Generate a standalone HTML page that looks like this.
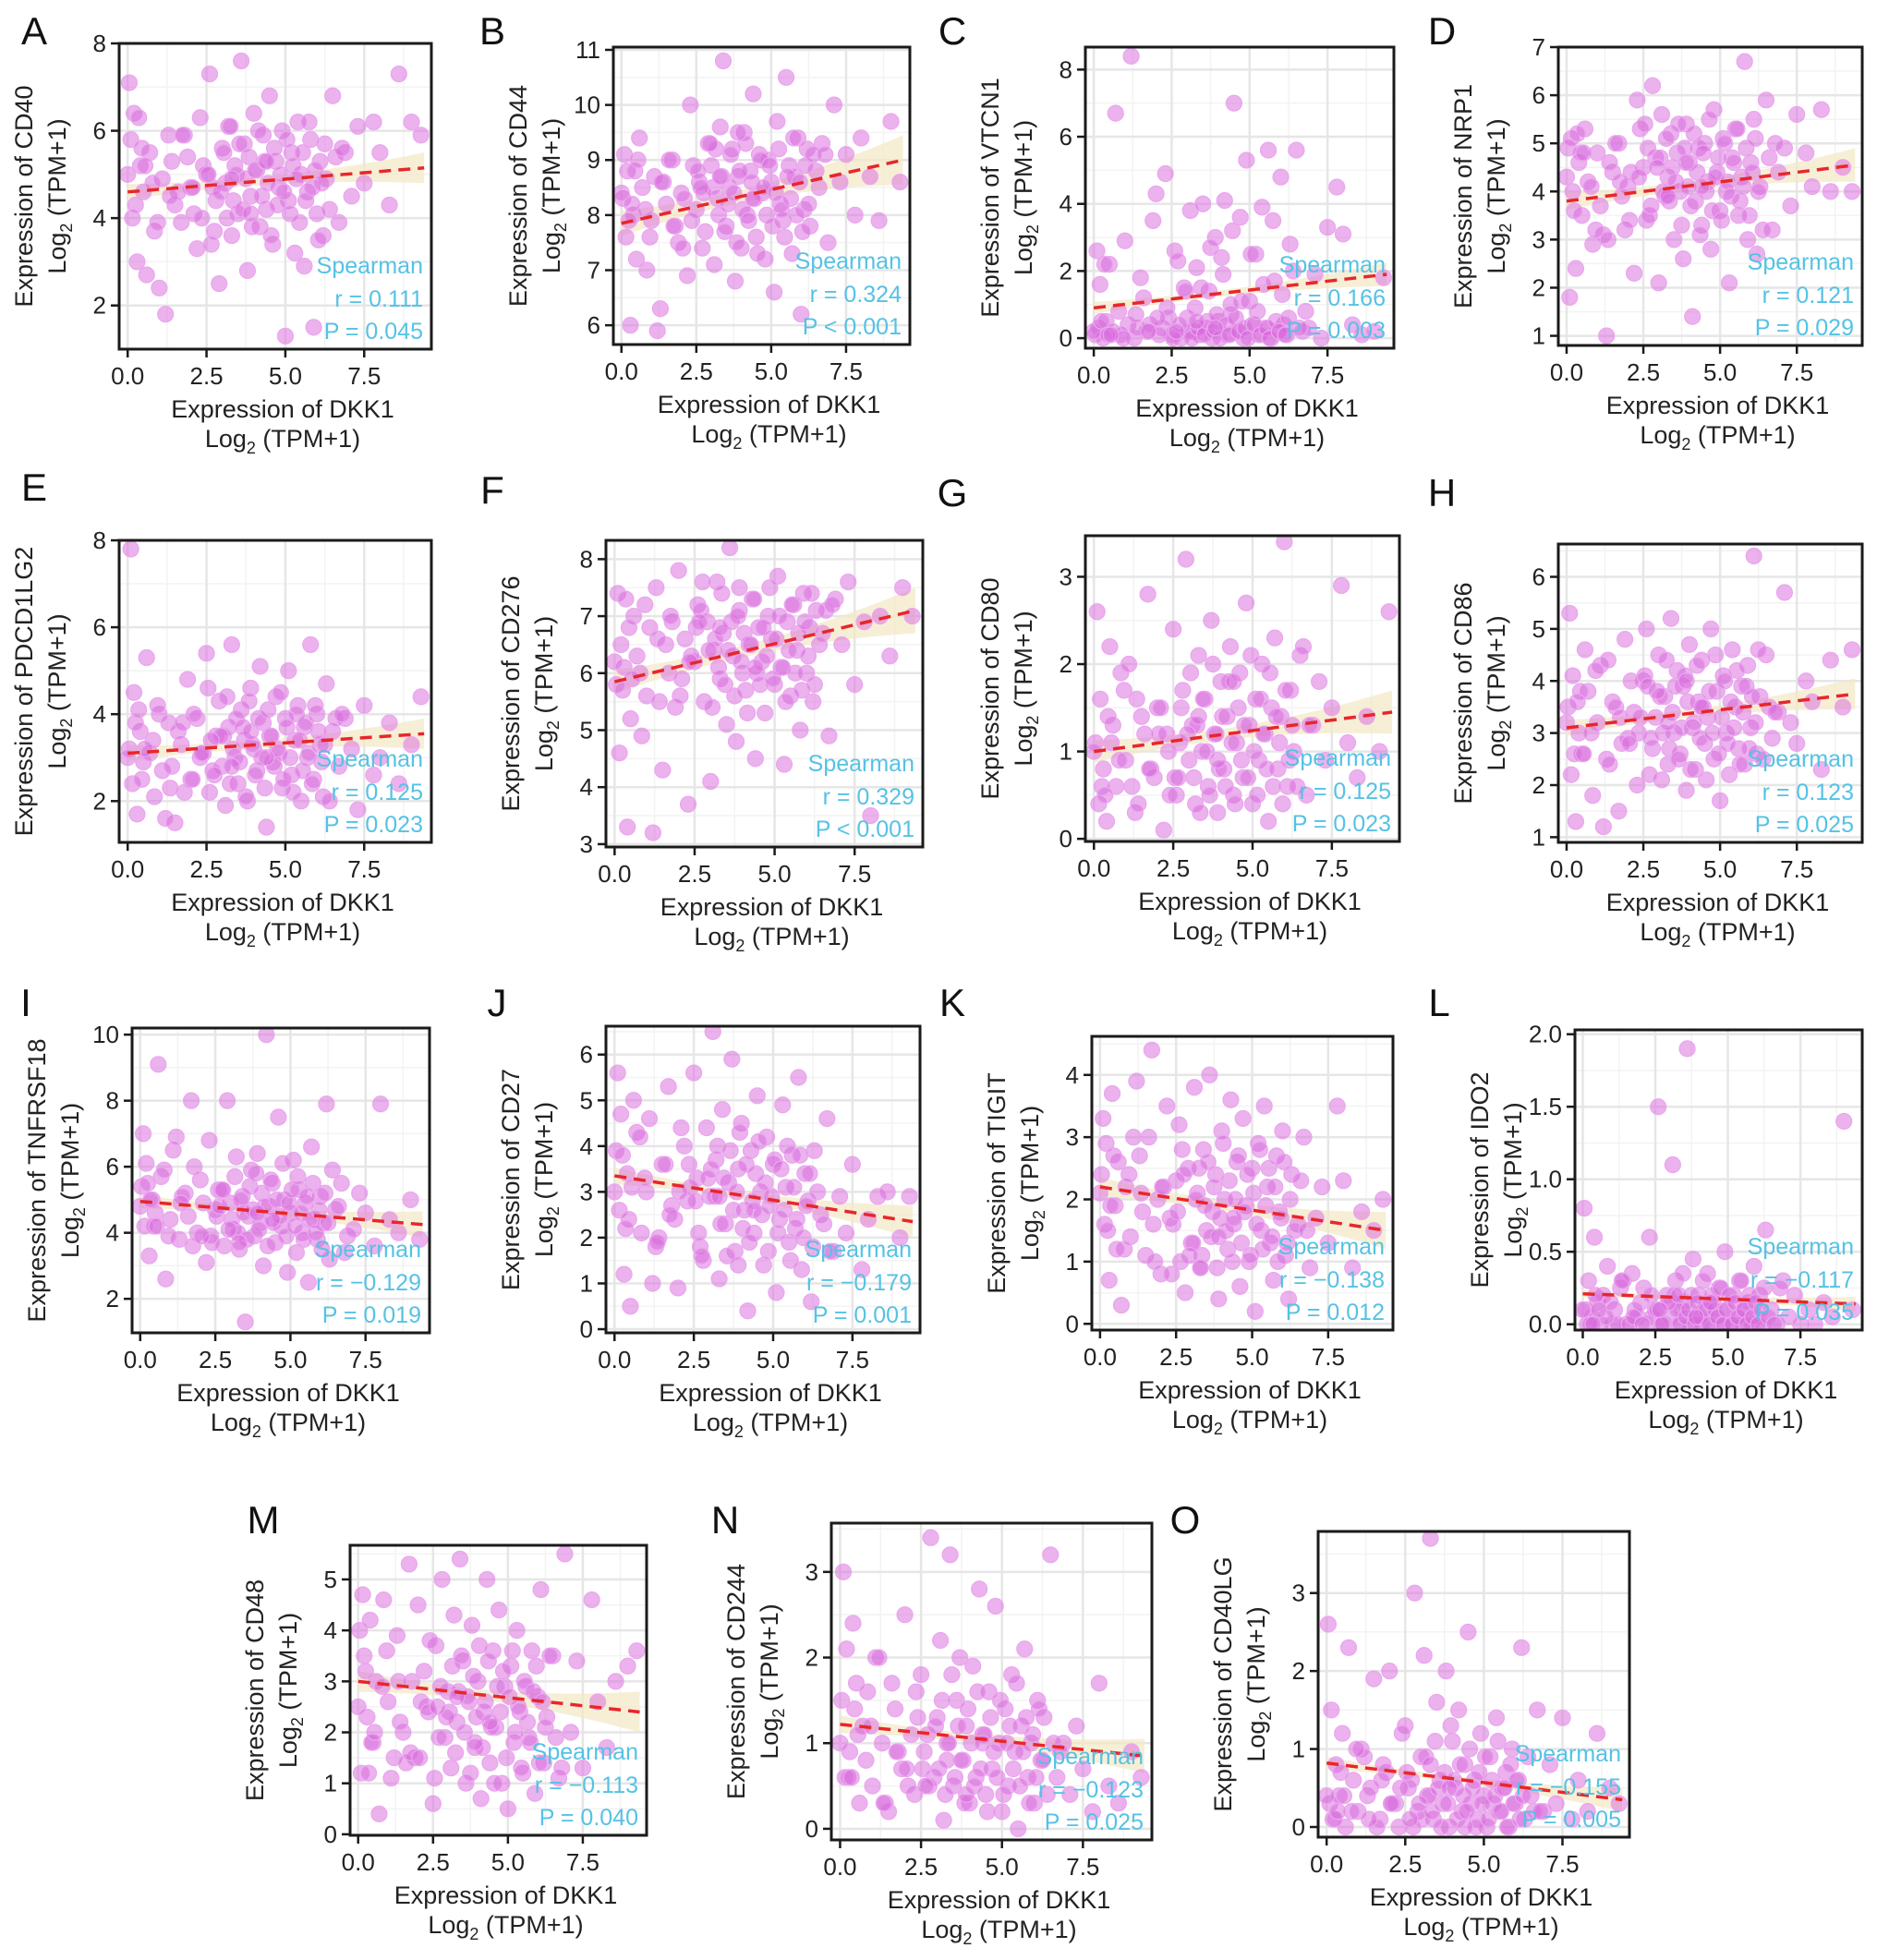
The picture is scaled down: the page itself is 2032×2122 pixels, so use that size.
<!DOCTYPE html>
<html><head><meta charset="utf-8">
<style>
html,body{margin:0;padding:0;background:#fff;}
svg{display:block;font-family:"Liberation Sans",Arial,sans-serif;}
</style></head>
<body>
<svg id="fig" width="2032" height="2122" viewBox="0 0 2032 2122" xmlns="http://www.w3.org/2000/svg"></svg>
<script>
// Shared DKK1 expression values (x)
const dkk1 = [0.05,0.1,0.15,0.2,0.3,0.4,0.5,0.6,0.7,0.85,1.0,1.1,1.3,1.5,1.7,1.9,2.0,2.2,2.3,2.5,2.6,2.8,2.9,3.0,3.1,3.2,3.3,3.4,3.5,3.6,3.7,3.8,3.9,4.0,4.1,4.2,4.3,4.4,4.5,4.6,4.7,4.8,4.9,5.0,5.1,5.2,5.3,5.4,5.5,5.6,5.7,5.8,5.9,6.0,6.1,6.2,6.3,6.5,6.7,6.9,7.1,7.3,7.5,7.8,8.0,8.3,8.6,9.0,9.3,1.2,
 0.0,0.25,0.45,0.8,0.95,1.4,1.6,1.8,2.1,2.4,2.7,3.05,3.15,3.25,3.35,3.45,3.55,3.65,3.75,3.85,3.95,4.05,4.15,4.25,4.35,4.45,4.55,4.65,4.75,4.85,4.95,5.05,5.15,5.25,5.35,5.45,5.55,5.65,5.75,5.85,5.95,6.05,6.15,6.25,6.4,6.6,2.35,2.55,2.75,2.95,1.75,1.35,0.55,0.35,3.3,3.9,4.4,2.05,2.65,6.8];
const xTicks = [0, 2.5, 5, 7.5];
const xTickLabels = ["0.0","2.5","5.0","7.5"];

const cd40 = [7.1,5.8,4.0,6.4,3.0,5.2,4.6,2.7,5.5,3.7,2.4,4.9,5.9,4.3,3.9,5.4,4.7,3.3,6.3,5.0,7.3,4.4,2.5,5.6,4.8,6.1,3.6,5.2,4.1,7.6,5.7,2.8,4.5,6.4,5.1,3.8,5.9,4.2,6.8,3.4,5.3,4.7,6.0,1.3,4.4,5.5,3.2,6.2,5.0,2.9,4.6,5.8,1.5,4.1,5.3,3.6,4.9,6.8,3.9,5.5,4.5,6.1,4.8,6.2,5.5,4.3,7.3,6.2,5.9,1.8,
 5.0,4.3,5.6,4.8,3.9,5.3,4.6,5.9,4.1,5.2,4.7,5.5,4.0,6.1,4.4,5.0,5.7,4.2,4.9,5.4,3.8,5.1,6.0,4.5,5.3,4.8,3.6,5.6,4.3,5.0,4.6,5.8,4.1,5.2,4.9,3.9,5.5,4.4,6.2,4.7,5.1,3.5,4.8,5.7,4.2,5.4,4.0,5.0,3.7,4.6,5.9,4.5,5.2,6.3,4.9,4.1,5.3,4.7,3.4,5.6];
const cd44 = [8.3,9.1,7.6,8.8,6.0,8.0,7.2,9.4,8.5,7.0,7.9,8.7,6.3,8.2,9.0,7.5,8.4,6.9,10.0,8.1,8.6,7.7,9.3,8.9,7.1,8.3,9.6,10.8,7.8,8.5,9.2,6.8,8.7,7.4,9.5,8.0,8.8,10.2,7.6,9.1,8.4,7.2,9.0,8.6,6.6,9.7,8.2,7.9,10.5,8.9,7.3,8.7,9.4,6.2,8.1,9.2,7.8,8.8,9.3,7.5,10.0,8.6,9.1,8.0,9.4,8.7,7.9,9.7,8.6,5.9,
 8.4,7.9,8.8,8.1,7.6,8.6,9.0,7.8,8.3,8.9,7.4,8.5,9.2,8.0,8.7,7.7,8.2,9.1,8.4,7.5,8.8,8.1,9.3,7.9,8.6,8.3,7.3,9.0,8.5,8.0,8.9,7.8,8.4,9.2,8.1,7.6,8.7,8.3,9.4,8.0,8.6,7.7,8.9,8.2,9.1,8.5,7.9,8.8,8.4,9.3,7.8,8.6,9.0,8.2,8.7,9.5,8.3,7.4,8.5,9.1];
const vtcn1 = [0.1,2.6,0.3,1.6,0.0,0.5,2.2,0.2,6.7,0.1,2.9,0.4,0.0,1.8,0.2,3.5,4.3,0.3,4.9,0.1,2.6,0.0,1.5,0.6,3.8,0.2,2.1,0.1,4.0,0.3,1.4,0.0,3.0,0.5,2.4,4.1,0.1,0.7,7.0,0.2,3.6,0.0,5.3,1.1,0.4,2.5,0.1,3.9,0.3,5.6,0.0,1.7,0.2,4.8,0.4,0.1,2.8,5.6,0.2,0.3,1.9,0.0,3.3,4.5,3.1,0.4,0.1,0.2,1.8,8.4,
 0.2,0.5,0.1,0.8,0.0,0.3,1.2,0.4,0.1,0.6,2.3,0.2,0.0,0.9,0.3,1.5,0.1,0.5,2.7,0.2,0.7,0.0,1.9,0.4,0.1,3.2,0.6,0.2,1.1,0.3,0.0,2.5,0.4,0.8,0.1,1.6,0.3,0.0,3.5,0.5,0.2,1.3,0.1,0.6,2.0,0.3,0.9,0.0,0.4,1.4,0.2,0.7,0.1,2.2,0.5,0.3,1.0,0.6,0.2,0.8];
const nrp1 = [4.9,1.8,5.1,4.0,2.4,4.6,3.5,5.3,4.2,2.9,4.8,3.7,1.0,4.4,5.0,3.2,4.1,2.3,5.9,4.5,3.4,6.2,4.7,2.1,5.6,3.9,4.3,5.2,3.0,4.8,4.0,2.6,5.4,4.6,1.4,3.8,4.9,3.3,5.0,4.2,2.8,5.7,4.4,3.6,5.1,4.0,2.1,4.7,5.3,3.5,4.3,6.7,3.0,4.6,5.5,2.7,4.1,5.9,3.2,4.4,4.9,3.7,5.6,4.8,4.1,5.7,4.0,4.5,4.0,3.1,
 4.3,3.6,4.8,4.1,3.2,4.6,5.0,3.9,4.4,5.3,3.5,4.7,4.0,5.1,3.8,4.5,4.2,5.4,3.3,4.9,4.1,3.7,5.2,4.4,3.1,4.8,4.0,5.5,3.6,4.3,4.7,3.4,5.0,4.2,3.9,4.6,5.3,3.8,4.1,4.9,3.5,4.4,5.1,4.0,3.2,4.7,4.3,5.4,3.7,4.5,4.2,3.0,4.8,5.2,3.9,4.6,4.1,3.4,4.9,5.0];
const pdcd1lg2 = [3.2,7.8,2.4,4.5,1.7,3.6,2.9,5.3,3.1,2.1,4.0,2.7,3.8,1.5,3.3,4.8,2.5,3.9,3.0,5.4,2.2,3.5,4.3,2.8,1.9,3.7,5.6,3.0,2.4,4.1,3.4,2.0,4.6,3.2,2.7,5.1,3.8,1.4,3.5,2.9,4.4,3.1,2.3,3.9,5.0,2.6,3.4,4.2,2.0,3.7,3.0,5.6,2.5,4.0,3.3,2.1,4.7,3.6,2.8,3.9,3.2,1.8,4.2,2.6,3.0,3.8,2.4,3.3,4.4,1.6,
 3.0,3.8,2.5,3.4,4.2,2.8,3.6,2.2,4.0,3.1,2.7,3.5,4.4,2.4,3.2,3.9,2.9,3.7,2.1,4.3,3.3,2.6,3.9,3.0,2.3,4.1,3.5,2.8,3.2,4.5,2.5,3.7,3.0,2.2,4.0,3.4,2.7,3.8,3.1,2.4,4.2,3.6,2.9,3.3,2.0,3.9,3.1,4.6,2.6,3.5,3.8,2.3,3.2,4.1,2.8,3.6,3.0,2.5,3.4,4.0];
const cd276 = [5.8,7.4,4.6,6.5,6.1,3.3,5.2,7.0,6.3,4.9,5.6,6.8,7.5,4.3,6.0,5.4,7.8,6.6,3.7,6.2,7.2,5.5,6.9,4.1,6.4,7.6,5.9,6.7,5.1,8.2,6.3,4.8,7.1,6.0,5.7,6.5,7.3,4.5,6.8,6.2,5.3,7.0,6.6,5.8,7.7,6.1,4.4,6.9,5.6,7.2,6.4,5.0,7.4,6.0,6.8,5.5,7.1,6.7,4.9,7.3,6.5,7.6,5.8,6.9,3.5,7.0,6.3,7.5,7.0,3.2,
 6.2,5.7,6.8,6.0,7.2,5.5,6.5,6.9,5.9,6.3,7.1,5.4,6.6,6.1,7.4,5.8,6.4,6.9,5.6,7.0,6.2,6.7,5.3,6.5,7.3,6.0,5.8,6.8,6.3,7.5,5.9,6.6,7.0,6.1,5.5,6.4,7.2,6.0,6.7,5.7,6.9,6.3,7.4,5.8,6.5,7.1,6.2,6.8,7.6,6.4,7.0,6.6,5.9,7.3,6.8,7.5,6.1,5.6,6.9,7.2];
const cd80 = [1.1,2.6,0.4,1.6,0.8,0.2,2.2,1.3,0.6,1.9,0.9,2.0,0.3,1.4,2.8,0.7,1.5,0.1,1.2,2.4,0.5,1.7,3.2,0.9,1.3,0.4,2.1,1.0,1.6,0.6,2.5,1.2,0.3,1.8,0.8,1.4,2.2,0.5,1.1,1.9,0.7,2.7,1.3,0.4,1.6,0.9,2.0,1.2,0.2,1.5,2.3,0.8,1.4,3.4,0.6,1.7,1.0,2.1,0.5,1.3,1.8,0.9,1.5,2.9,1.1,0.7,1.4,1.0,2.6,0.6,
 1.0,0.6,1.4,0.9,1.7,0.4,1.2,0.8,1.5,0.5,1.1,1.9,0.7,1.3,0.3,1.6,1.0,0.5,2.0,1.2,0.8,1.4,0.6,1.8,1.1,0.4,1.5,0.9,1.3,0.7,2.1,1.0,0.5,1.6,1.2,0.8,1.9,0.6,1.4,1.1,0.4,1.7,0.9,1.3,0.6,2.2,1.0,0.7,1.5,1.2,0.8,1.6,1.1,0.5,1.4,0.9,1.8,1.2,0.7,1.3];
const cd86 = [3.5,5.3,2.2,4.1,1.3,3.0,2.6,4.6,3.8,1.8,3.2,4.3,2.5,3.6,1.5,4.8,2.9,3.4,2.0,4.0,5.0,2.7,3.3,4.5,2.1,3.7,2.4,5.2,3.0,4.2,2.6,3.9,1.9,4.7,3.1,2.3,3.6,4.4,2.8,3.3,5.0,2.5,3.8,1.7,4.1,3.0,2.2,4.6,3.5,2.7,3.9,2.4,4.3,3.1,6.4,2.6,3.7,4.5,2.9,3.4,5.7,3.2,2.8,4.0,3.6,2.3,4.4,3.5,4.6,1.2,
 3.2,2.6,3.8,3.0,4.2,2.4,3.5,2.8,4.0,3.3,2.2,3.7,3.0,4.4,2.7,3.4,3.9,2.5,3.1,4.1,3.6,2.3,3.2,4.3,2.9,3.5,2.1,3.8,3.0,4.5,2.6,3.3,4.0,2.8,3.6,3.1,4.2,2.4,3.4,3.9,2.7,3.7,3.2,4.6,2.5,3.5,3.0,4.1,2.9,3.8,3.3,4.4,2.6,3.6,3.2,4.0,3.5,2.8,3.9,3.4];
const tnfrsf18 = [5.4,7.0,4.2,6.1,3.3,5.0,4.6,9.1,5.7,2.6,4.4,6.5,3.8,5.2,8.0,4.0,5.6,3.1,6.8,4.7,5.3,3.6,8.0,4.9,4.1,6.3,3.5,5.1,1.3,4.5,5.9,3.9,6.4,4.3,3.0,10.0,4.8,5.5,3.7,7.5,4.2,5.0,2.8,4.6,6.2,3.4,5.3,4.0,4.9,2.5,6.6,4.4,3.8,5.1,4.3,7.9,3.2,4.7,5.5,3.9,4.1,5.2,4.6,3.6,7.9,4.4,4.0,5.0,3.8,6.9,
 4.8,5.5,4.2,5.9,3.9,5.1,4.5,6.0,4.9,3.7,5.3,4.4,5.7,4.0,5.0,4.6,3.8,5.4,4.7,5.8,4.1,5.2,4.8,3.6,5.6,4.3,5.0,4.5,6.1,3.9,4.9,5.3,4.2,5.7,4.6,3.8,5.1,4.4,5.5,4.0,4.7,3.5,5.2,4.3,5.9,4.8,3.9,4.5,5.3,4.1,3.6,4.9,4.2,5.0,3.7,4.6,4.4,3.9,4.8,3.4];
const cd27 = [3.9,5.6,2.6,4.7,1.2,3.4,0.5,5.0,4.3,2.1,3.0,4.6,1.8,3.6,5.3,2.4,0.9,4.0,2.8,5.6,3.3,1.5,4.4,2.9,6.5,3.7,1.1,4.8,2.3,3.2,5.9,1.7,3.5,4.5,2.6,0.4,3.9,2.1,5.1,3.0,1.4,4.2,2.7,3.6,0.8,2.4,4.9,3.1,1.9,3.8,2.2,5.5,1.3,3.4,2.8,0.6,3.9,2.5,4.6,1.7,2.9,2.1,3.6,1.3,2.4,2.9,3.0,2.0,2.9,1.0,
 3.0,3.8,2.4,4.2,3.3,2.0,3.6,2.7,4.4,3.1,1.8,3.5,2.9,4.0,2.3,3.3,1.6,3.9,2.6,3.0,4.3,2.2,3.6,1.9,2.8,3.4,4.1,2.5,3.2,1.7,2.9,3.7,2.1,3.5,2.6,4.0,1.5,3.1,2.4,3.8,2.0,2.7,3.4,1.8,3.0,2.3,3.6,2.8,1.6,3.3,2.5,1.9,3.1,2.2,2.9,1.4,2.6,3.0,2.1,1.7];
const tigit = [2.4,3.3,1.6,2.9,0.7,3.7,1.9,2.6,0.3,2.2,1.4,3.0,2.7,1.1,4.4,2.0,0.8,3.5,1.7,2.3,3.2,0.5,2.5,1.3,3.8,2.1,0.9,2.8,1.5,4.0,1.8,2.4,0.4,3.1,2.0,1.2,3.6,1.6,2.6,0.6,3.3,1.9,1.0,2.5,0.2,2.9,1.5,3.5,2.2,1.3,0.7,2.7,1.8,3.1,1.1,0.4,2.4,1.6,3.0,0.9,1.7,2.2,1.3,3.5,2.3,0.9,1.8,1.5,2.0,3.9,
 2.1,1.5,2.7,1.2,2.4,1.8,3.0,1.0,2.2,1.6,2.8,1.3,2.0,2.5,1.1,1.9,2.6,1.4,2.2,0.9,1.7,2.9,1.5,2.3,1.0,2.0,2.7,1.3,1.8,2.4,1.1,2.1,1.6,2.8,1.2,1.9,2.5,1.4,2.2,1.0,1.7,2.6,1.3,2.0,1.5,2.3,0.8,1.8,2.4,1.1,1.6,2.1,1.2,1.9,0.9,1.4,1.7,2.2,1.0,1.5];
const ido2 = [0.8,0.1,0.0,0.3,0.05,0.6,0.15,0.0,0.2,0.4,0.0,0.1,0.25,0.0,0.35,0.05,0.15,0.0,0.6,0.1,1.5,0.0,0.2,0.05,1.1,0.3,0.0,0.1,0.15,1.9,0.0,0.45,0.05,0.2,0.0,0.1,0.35,0.0,0.15,0.05,0.25,0.0,0.5,0.1,0.0,0.2,0.05,0.3,0.0,0.1,0.15,0.0,0.4,0.05,0.2,0.0,0.65,0.1,0.0,0.3,0.05,0.2,0.0,0.1,0.0,0.15,0.05,1.4,0.1,0.0,
 0.1,0.0,0.2,0.05,0.15,0.3,0.0,0.1,0.25,0.05,0.0,0.15,0.2,0.1,0.0,0.35,0.05,0.1,0.2,0.0,0.15,0.05,0.3,0.1,0.0,0.2,0.1,0.05,0.25,0.0,0.1,0.2,0.0,0.15,0.05,0.3,0.1,0.0,0.2,0.05,0.15,0.0,0.1,0.25,0.05,0.0,0.2,0.1,0.0,0.15,0.05,0.3,0.1,0.0,0.2,0.05,0.15,0.0,0.1,0.25];
const cd48 = [4.0,1.2,4.7,3.5,2.3,4.2,1.8,3.0,0.4,4.6,2.6,1.1,3.9,2.0,5.3,1.5,4.5,3.2,2.5,0.6,3.7,5.0,1.9,2.8,1.3,4.3,2.2,5.4,3.4,1.0,2.6,4.1,1.7,3.0,0.7,2.4,5.0,1.4,3.6,2.1,4.4,1.0,2.9,0.5,3.3,1.8,4.0,2.4,1.2,2.9,1.9,3.6,0.8,2.7,4.8,1.4,2.3,3.5,1.1,5.5,2.0,3.4,1.3,4.6,2.6,1.7,3.0,3.3,3.6,1.5,
 2.5,3.2,1.8,2.9,3.6,2.2,1.4,3.0,2.6,3.8,1.9,2.4,3.3,1.6,2.8,3.5,2.0,2.7,1.2,3.1,2.3,3.7,1.7,2.6,3.4,2.1,1.0,2.9,2.4,3.2,1.5,2.7,3.6,2.0,2.5,1.3,3.0,2.2,1.8,2.8,3.3,1.4,2.6,2.1,3.5,1.9,2.4,1.1,2.9,2.3,1.6,3.0,2.0,1.2,2.7,1.8,2.2,1.5,2.5,1.3];
const cd244 = [1.5,3.0,0.6,2.1,0.9,2.4,1.7,0.3,1.2,1.6,0.5,2.0,1.0,0.2,1.4,0.7,2.5,1.1,0.4,1.8,0.9,3.4,0.6,1.3,2.2,0.1,1.0,3.2,0.5,1.5,2.0,0.8,1.2,0.3,1.9,0.6,2.8,1.1,0.4,1.6,0.7,2.6,1.0,0.2,1.4,0.5,1.8,0.9,0.0,1.2,2.1,0.6,1.0,0.3,1.5,0.8,1.3,3.2,0.6,1.0,0.4,1.2,0.7,0.2,1.7,0.5,0.3,0.9,0.6,2.0,
 1.0,0.6,1.4,0.8,1.2,0.3,1.7,0.9,0.5,1.3,1.1,0.7,1.5,0.4,1.0,1.8,0.6,1.2,0.8,0.3,1.4,1.0,0.5,1.6,0.7,1.1,0.2,1.3,0.9,0.6,1.5,0.4,1.0,1.2,0.7,1.7,0.5,0.9,1.3,0.3,1.1,0.6,1.4,0.8,0.4,1.0,1.6,0.7,0.5,1.2,0.9,0.3,1.1,0.6,0.8,0.4,1.0,0.7,0.5,0.9];
const cd40lg = [2.6,0.3,1.5,0.1,0.8,0.4,1.2,0.0,2.3,0.6,0.2,1.0,0.4,1.9,0.1,0.7,2.0,0.3,0.0,1.3,0.5,3.0,0.2,0.9,2.2,0.4,3.7,0.1,1.6,0.6,0.3,2.0,0.0,1.1,0.5,1.5,0.2,0.8,2.5,0.3,0.6,0.1,1.2,0.4,0.0,0.9,0.3,1.4,0.2,0.5,0.7,0.0,1.0,0.3,0.6,2.3,0.1,0.4,1.5,0.2,0.8,0.3,1.4,0.1,0.6,0.2,1.2,0.5,0.3,0.9,
 0.4,0.1,0.7,0.2,1.0,0.5,0.0,0.8,0.3,1.2,0.6,0.1,0.9,0.4,0.2,1.1,0.5,0.0,0.7,0.3,1.3,0.6,0.1,0.8,0.4,0.2,1.0,0.5,0.0,0.7,0.3,0.9,0.1,0.6,0.4,1.1,0.2,0.5,0.0,0.8,0.3,0.6,0.1,0.4,0.9,0.2,0.5,0.7,0.0,0.3,0.6,0.1,0.4,0.2,0.8,0.5,0.0,0.3,0.1,0.2];

const genes = ["CD40","CD44","VTCN1","NRP1","PDCD1LG2","CD276","CD80","CD86","TNFRSF18","CD27","TIGIT","IDO2","CD48","CD244","CD40LG"];
const letters = ["A","B","C","D","E","F","G","H","I","J","K","L","M","N","O"];
const rValues = ["r = 0.111","r = 0.324","r = 0.166","r = 0.121","r = 0.125","r = 0.329","r = 0.125","r = 0.123","r = −0.129","r = −0.179","r = −0.138","r = −0.117","r = −0.113","r = −0.123","r = −0.155"];
const pValues = ["P = 0.045","P < 0.001","P = 0.003","P = 0.029","P = 0.023","P < 0.001","P = 0.023","P = 0.025","P = 0.019","P = 0.001","P = 0.012","P = 0.035","P = 0.040","P = 0.025","P = 0.005"];
const fitStart = [4.6,7.85,0.9,3.8,3.1,5.85,1.0,3.1,4.95,3.35,2.2,0.21,3.0,1.22,0.82];
const fitEnd = [5.15,9.0,1.9,4.55,3.55,7.1,1.45,3.75,4.25,2.35,1.5,0.14,2.4,0.85,0.35];
const ySeries = [cd40,cd44,vtcn1,nrp1,pdcd1lg2,cd276,cd80,cd86,tnfrsf18,cd27,tigit,ido2,cd48,cd244,cd40lg];
const yTickSets = [[2,4,6,8],[6,7,8,9,10,11],[0,2,4,6,8],[1,2,3,4,5,6,7],[2,4,6,8],[3,4,5,6,7,8],[0,1,2,3],[1,2,3,4,5,6],[2,4,6,8,10],[0,1,2,3,4,5,6],[0,1,2,3,4],[0,0.5,1,1.5,2],[0,1,2,3,4,5],[0,1,2,3],[0,1,2,3]];
const yTickLabelSets = [["2","4","6","8"],["6","7","8","9","10","11"],["0","2","4","6","8"],["1","2","3","4","5","6","7"],["2","4","6","8"],["3","4","5","6","7","8"],["0","1","2","3"],["1","2","3","4","5","6"],["2","4","6","8","10"],["0","1","2","3","4","5","6"],["0","1","2","3","4"],["0.0","0.5","1.0","1.5","2.0"],["0","1","2","3","4","5"],["0","1","2","3"],["0","1","2","3"]];
const yDomains = [[1.0,8.0],[5.65,11.05],[-0.3,8.67],[0.8,7.0],[1.05,8.0],[2.95,8.33],[-0.03,3.47],[0.9,6.63],[0.97,10.2],[-0.08,6.62],[-0.1,4.62],[-0.04,2.03],[-0.02,5.67],[-0.13,3.57],[-0.13,3.79]];
const ciWidth = [0.35,0.45,0.35,0.35,0.35,0.4,0.25,0.3,0.4,0.35,0.3,0.05,0.4,0.2,0.15];

// layout (not data)
const boxes = [[129,47,467,378],[664,51,985,373],[1175,51,1509,377],[1687,51,2016,374],
 [129,585,467,912],[656,585,999,917],[1175,580,1515,911],[1687,589,2016,912],
 [143,1113,465,1443],[656,1111,996,1443],[1182,1122,1508,1440],[1705,1115,2016,1440],
 [379,1673,700,1987],[900,1649,1247,1992],[1427,1658,1764,1989]];
const letterPos = [[37,33],[533,33],[1031,33],[1561,33],[37,527],[533,530],[1031,533],[1561,533],[28,1085],[538,1085],[1031,1085],[1558,1085],[285,1645],[785,1645],[1283,1645]];

const NS = "http://www.w3.org/2000/svg";
const svg = document.getElementById("fig");
function mk(tag, attrs, parent){const e=document.createElementNS(NS,tag);for(const k in attrs)e.setAttribute(k,attrs[k]);(parent||svg).appendChild(e);return e;}
const X_DOM = [-0.27, 9.63];

genes.forEach((g, i) => {
  const [L,T,R,B] = boxes[i];
  const yd = yDomains[i];
  const sx = v => L + (v - X_DOM[0]) / (X_DOM[1]-X_DOM[0]) * (R-L);
  const sy = v => B - (v - yd[0]) / (yd[1]-yd[0]) * (B-T);
  const grp = mk("g", {});
  
  
  const clipId = "clip"+i;
  const cp = mk("clipPath",{id:clipId},grp); mk("rect",{x:L,y:T,width:R-L,height:B-T},cp);
  mk("rect",{x:L,y:T,width:R-L,height:B-T,fill:"#fff"},grp);
  const gg = mk("g",{"clip-path":"url(#"+clipId+")"},grp);
  
  
  const yt = yTickSets[i];
  const step = yt[1]-yt[0];
  for (let k=-1;k<yt.length;k++){ const v=yt[0]+(k+0.5)*step; mk("line",{x1:L,x2:R,y1:sy(v),y2:sy(v),stroke:"#f3f3f3","stroke-width":1.5},gg);}
  [-1.25,1.25,3.75,6.25,8.75].forEach(v=>mk("line",{x1:sx(v),x2:sx(v),y1:T,y2:B,stroke:"#f3f3f3","stroke-width":1.5},gg));
  yt.forEach(v=>mk("line",{x1:L,x2:R,y1:sy(v),y2:sy(v),stroke:"#e6e6e6","stroke-width":2.5},gg));
  xTicks.forEach(v=>mk("line",{x1:sx(v),x2:sx(v),y1:T,y2:B,stroke:"#e6e6e6","stroke-width":2.5},gg));
  const fx = v => fitStart[i] + (fitEnd[i]-fitStart[i]) * v / 9.4;
  const xsBand = [0,1,2,3,4,5,6,7,8,9,9.4];
  const hw = v => ciWidth[i] * (0.25 + 0.75*Math.pow((v-3.5)/5.9,2));
  let pts = xsBand.map(v=>sx(v)+","+sy(fx(v)+hw(v))).concat(xsBand.slice().reverse().map(v=>sx(v)+","+sy(fx(v)-hw(v))));
  const band = mk("polygon",{points:pts.join(" "),fill:"#f2e8c4","fill-opacity":0.7,"clip-path":"url(#"+clipId+")"},grp);
  
  
  const pg = mk("g",{"clip-path":"url(#"+clipId+")"},grp);
  
  
  ySeries[i].forEach((yv, j) => {
    const c = mk("circle",{cx:sx(dkk1[j]),cy:sy(yv),r:8.5,fill:"#d866dc","fill-opacity":0.5,stroke:"#eaa6ee","stroke-width":1.2},pg);
    
    
  });
  const fl = mk("line",{x1:sx(0),y1:sy(fitStart[i]),x2:sx(9.4),y2:sy(fitEnd[i]),stroke:"#e8262a","stroke-width":3.5,"stroke-dasharray":"13 8"},grp);
  
  
  const bx = mk("rect",{x:L,y:T,width:R-L,height:B-T,fill:"none",stroke:"#1a1a1a","stroke-width":3},grp);
  
  
  yt.forEach((v,k)=>{
    mk("line",{x1:L-9,x2:L,y1:sy(v),y2:sy(v),stroke:"#1a1a1a","stroke-width":2.5},grp);
    const t = mk("text",{x:L-14,y:sy(v)+9,"text-anchor":"end","font-size":26,fill:"#222"},grp);
    t.textContent = yTickLabelSets[i][k];
    
    
  });
  xTicks.forEach((v,k)=>{
    mk("line",{x1:sx(v),x2:sx(v),y1:B,y2:B+9,stroke:"#1a1a1a","stroke-width":2.5},grp);
    const t = mk("text",{x:sx(v),y:B+38,"text-anchor":"middle","font-size":26,fill:"#222"},grp);
    t.textContent = xTickLabels[k];
    
    
  });
  const cx = (L+R)/2 + 8;
  const xt1 = mk("text",{x:cx,y:B+74,"text-anchor":"middle","font-size":27,fill:"#222"},grp);
  xt1.textContent = "Expression of DKK1";
  
  
  const xt2 = mk("text",{x:cx,y:B+106,"text-anchor":"middle","font-size":27,fill:"#222"},grp);
  xt2.innerHTML = 'Log<tspan font-size="18" dy="7">2</tspan><tspan dy="-7"> (TPM+1)</tspan>';
  
  
  const cy = (T+B)/2;
  const yt1 = mk("text",{x:0,y:0,"text-anchor":"middle","font-size":27,fill:"#222",transform:`translate(${L-94},${cy}) rotate(-90)`},grp);
  yt1.textContent = "Expression of " + g;
  
  
  const yt2 = mk("text",{x:0,y:0,"text-anchor":"middle","font-size":27,fill:"#222",transform:`translate(${L-58},${cy}) rotate(-90)`},grp);
  yt2.innerHTML = 'Log<tspan font-size="18" dy="7">2</tspan><tspan dy="-7"> (TPM+1)</tspan>';
  
  
  const st = [["Spearman",82],[rValues[i],46],[pValues[i],11]];
  st.forEach(([s,off])=>{
    const t = mk("text",{x:R-9,y:B-off,"text-anchor":"end","font-size":25,fill:"#55c2e4"},grp);
    t.textContent = s;
    
    
  });
  const lt = mk("text",{x:letterPos[i][0],y:letterPos[i][1]+15,"text-anchor":"middle","font-size":42,fill:"#111"},grp);
  lt.textContent = letters[i];
  
  
});
</script>
</body></html>
